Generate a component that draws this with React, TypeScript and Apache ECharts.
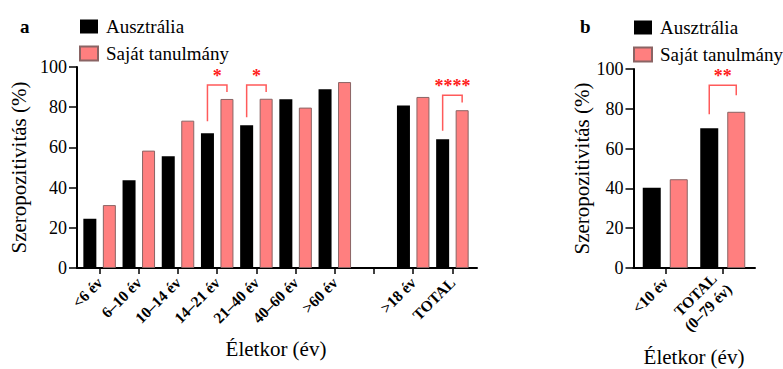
import React, { useEffect, useRef } from "react";
import * as echarts from "echarts";

const FONT = "'Liberation Serif', 'Times New Roman', serif";

// Panel a
const catsA = ["<6 év", "6–10 év", "10–14 év", "14–21 év", "21–40 év", "40–60 év", ">60 év", "", ">18 év", "TOTAL"];
const ausA = [24.5, 43.6, 55.6, 67, 71, 84, 88.9, null, 80.8, 64];
const ownA = [31.3, 58.4, 73.3, 84.1, 84.2, 79.8, 92.5, null, 85.1, 78.5];
// significance: [category, stars, bracket top, left end, right end]
const sigA: [string, string, number, number, number][] = [
  ["14–21 év", "*", 91, 73, 87.6],
  ["21–40 év", "*", 91, 75, 87.6],
  ["TOTAL", "****", 86, 68.3, 82.3],
];

// Panel b
const catsB = ["<10 év", "TOTAL\n(0–79 év)"];
const ausB = [40.3, 70.2];
const ownB = [44.6, 78.5];
const sigB: [string, string, number, number, number][] = [
  ["TOTAL\n(0–79 év)", "**", 91.8, 77.2, 86.8],
];

const yTicks = { min: 0, max: 100, interval: 20 };
const legendNames = ["Ausztrália", "Saját tanulmány"];

const BLACK = "#000000";
const PINK = "#ff7f7f";
const RED_LINE = "#ff5a5a";
const RED_TEXT = "#ff1a1a";

function sigSeries(sig: [string, string, number, number, number][], cats: string[], xi: number, barW: number, gap: number) {
  const off = (barW * (1 + gap)) / 2;
  return {
    type: "custom",
    xAxisIndex: xi,
    yAxisIndex: xi,
    silent: true,
    clip: false,
    data: sig.map((s) => [cats.indexOf(s[0]), s[2], s[3], s[4]]),
    renderItem: (params: any, api: any) => {
      const cat = api.value(0);
      const top = api.coord([cat, api.value(1)]);
      const yl = api.coord([cat, api.value(2)])[1];
      const yr = api.coord([cat, api.value(3)])[1];
      const xl = top[0] - off;
      const xr = top[0] + off;
      const yt = top[1];
      return {
        type: "group",
        children: [
          {
            type: "polyline",
            shape: { points: [[xl, yl], [xl, yt], [xr, yt], [xr, yr]] },
            style: { stroke: RED_LINE, fill: "none", lineWidth: 1.5 },
          },
          {
            type: "text",
            x: (xl + xr) / 2,
            y: yt - 9,
            style: {
              text: sig[params.dataIndex][1],
              fill: RED_TEXT,
              fontFamily: FONT,
              fontSize: 18,
              fontWeight: "bold",
              align: "center",
              verticalAlign: "middle",
            },
          },
        ],
      };
    },
  };
}

export default function App() {
  const ref = useRef<HTMLDivElement>(null);
  useEffect(() => {
    document.body.style.margin = "0";
    const chart = echarts.init(ref.current!, undefined, { renderer: "svg" });
    const axisLineStyle = { color: BLACK, width: 2 };
    const yAxisBase = (gi: number, nameGap: number) => ({
      type: "value",
      gridIndex: gi,
      ...yTicks,
      offset: 3,
      name: "Szeropozitivitás (%)",
      nameLocation: "middle",
      nameGap,
      nameTextStyle: { fontFamily: FONT, fontSize: 21, color: BLACK },
      axisLine: { show: true, lineStyle: axisLineStyle },
      axisTick: { show: true, length: 8, lineStyle: { color: BLACK, width: 1.5 } },
      axisLabel: { fontFamily: FONT, fontSize: 18, color: BLACK, margin: 10 },
      splitLine: { show: false },
    });
    const hiddenY = (gi: number) => ({ type: "value", gridIndex: gi, show: false, min: 0, max: 100 });
    const lineX = (gi: number) => ({
      type: "value",
      gridIndex: gi,
      min: 0,
      max: 1,
      axisLine: { show: true, onZero: false, lineStyle: axisLineStyle },
      axisTick: { show: false },
      axisLabel: { show: false },
      splitLine: { show: false },
    });
    const catX = (gi: number, cats: string[], name: string, nameGap: number, rich: boolean) => ({
      type: "category",
      gridIndex: gi,
      data: cats,
      name,
      nameLocation: "middle",
      nameGap,
      nameTextStyle: { fontFamily: FONT, fontSize: 21, color: BLACK },
      axisLine: { show: false },
      axisTick: { show: true, alignWithLabel: true, length: 6, lineStyle: { color: BLACK, width: 1.5 } },
      axisLabel: rich
        ? {
            interval: 0,
            rotate: 45,
            margin: 12,
            formatter: (v: string) => v.split("\n").map((s) => `{c|${s}}`).join("\n"),
            rich: { c: { align: "center", fontFamily: FONT, fontSize: 15.5, fontWeight: "bold", color: BLACK, lineHeight: 18 } },
          }
        : { interval: 0, rotate: 45, margin: 12, fontFamily: FONT, fontSize: 15.5, fontWeight: "bold", color: BLACK },
      splitLine: { show: false },
    });
    const legend = (left: number, top: number) => ({
      orient: "vertical",
      left,
      top,
      padding: 0,
      itemWidth: 18,
      itemHeight: 14,
      itemGap: 8,
      icon: "rect",
      data: legendNames,
      selectedMode: false,
      textStyle: { fontFamily: FONT, fontSize: 19, color: BLACK, padding: [0, 0, 0, 3] },
    });
    const barBlack = { color: BLACK };
    const barPink = { color: PINK, borderColor: "#8a6464", borderWidth: 1 };
    const gridBase = { outerBoundsMode: "none", containLabel: false };

    chart.setOption({
      animation: false,
      backgroundColor: "#ffffff",
      textStyle: { fontFamily: FONT },
      legend: [legend(79, 17), legend(633, 18)],
      graphic: [
        { type: "text", x: 20, y: 36, style: { text: "a", fontFamily: FONT, fontSize: 19, fontWeight: "bold", fill: BLACK, verticalAlign: "bottom" } },
        { type: "text", x: 580, y: 36, style: { text: "b", fontFamily: FONT, fontSize: 19, fontWeight: "bold", fill: BLACK, verticalAlign: "bottom" } },
      ],
      grid: [
        { ...gridBase, left: 80, top: 67, width: 392, height: 201 },
        { ...gridBase, left: 77, top: 67, width: 400, height: 201 },
        { ...gridBase, left: 636.5, top: 69, width: 115, height: 199 },
        { ...gridBase, left: 633.3, top: 69, width: 121.7, height: 199 },
      ],
      xAxis: [
        catX(0, catsA, "Életkor (év)", 70, false),
        lineX(1),
        catX(2, catsB, "Életkor (év)", 78, true),
        lineX(3),
      ],
      yAxis: [yAxisBase(0, 44), hiddenY(1), yAxisBase(2, 41), hiddenY(3)],
      series: [
        { type: "bar", name: legendNames[0], xAxisIndex: 0, yAxisIndex: 0, data: ausA, barWidth: 13, barGap: "50%", itemStyle: barBlack },
        { type: "bar", name: legendNames[1], xAxisIndex: 0, yAxisIndex: 0, data: ownA, barWidth: 13, barGap: "50%", itemStyle: barPink },
        { type: "bar", name: legendNames[0], xAxisIndex: 2, yAxisIndex: 2, data: ausB, barWidth: 18, barGap: "50%", itemStyle: barBlack },
        { type: "bar", name: legendNames[1], xAxisIndex: 2, yAxisIndex: 2, data: ownB, barWidth: 18, barGap: "50%", itemStyle: barPink },
        sigSeries(sigA, catsA, 0, 13, 0.5),
        sigSeries(sigB, catsB, 2, 18, 0.5),
      ],
    });
    return () => chart.dispose();
  }, []);
  return <div ref={ref} style={{ width: 783, height: 369 }} />;
}
